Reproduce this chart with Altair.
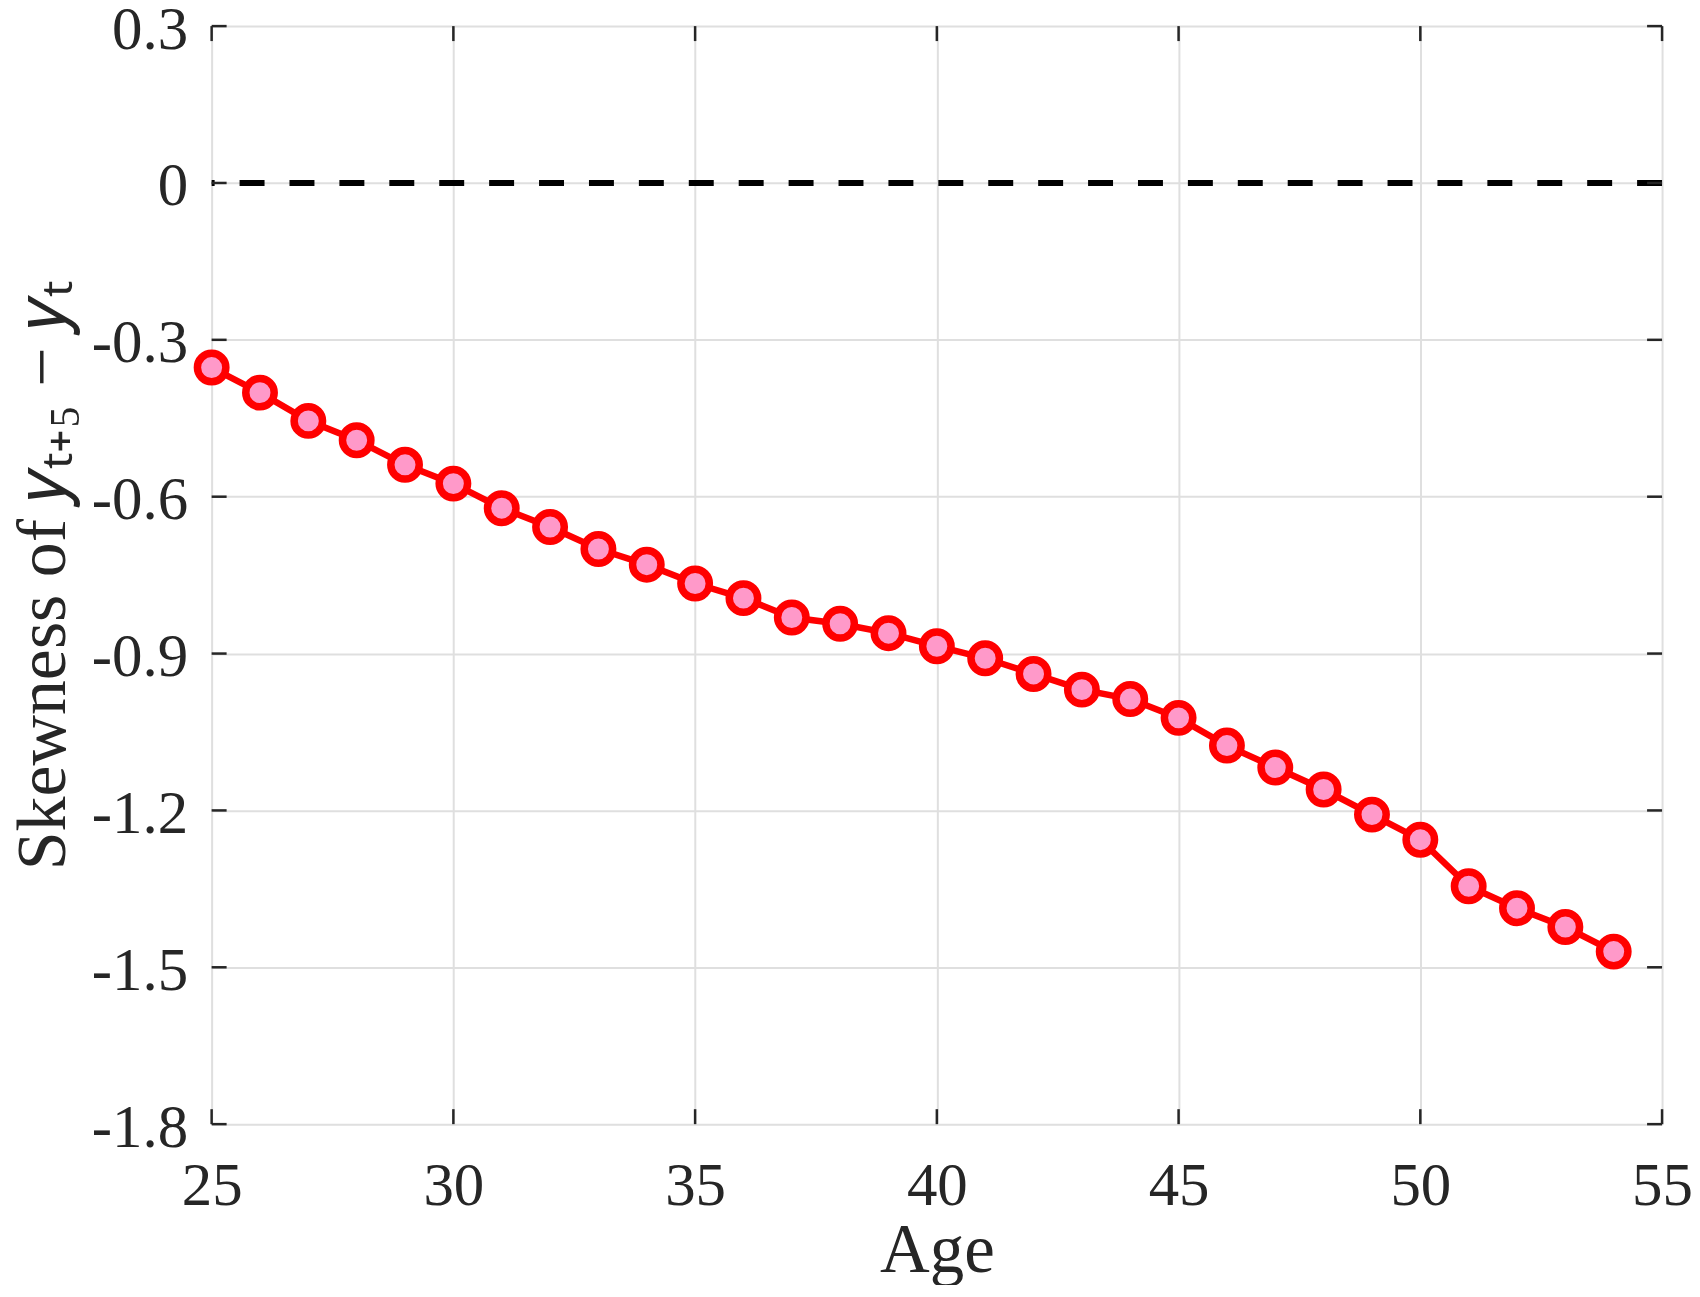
import altair as alt
import pandas as pd

# ---- data ----
ages = list(range(25, 55))
skewness = [-0.353, -0.401, -0.455, -0.492, -0.539, -0.575, -0.622, -0.658,
            -0.700, -0.730, -0.766, -0.794, -0.831, -0.843, -0.861, -0.886,
            -0.909, -0.939, -0.969, -0.987, -1.023, -1.076, -1.118, -1.160,
            -1.208, -1.256, -1.345, -1.387, -1.423, -1.470]
x_ticks = [25, 30, 35, 40, 45, 50, 55]
y_ticks = [-1.8, -1.5, -1.2, -0.9, -0.6, -0.3, 0, 0.3]
x_title = "Age"
y_title = "Skewness of 𝑦ₜ₊₅ − 𝑦ₜ"

W, H = 1453, 1100
FONT = "Liberation Serif"
INK = "#262626"
TICK_LEN = 15

df = pd.DataFrame({"age": ages, "skew": skewness})
xt = pd.DataFrame({"v": x_ticks})
yt = pd.DataFrame({"v": y_ticks})

xscale = alt.Scale(domain=[x_ticks[0], x_ticks[-1]], nice=False, zero=False)
yscale = alt.Scale(domain=[y_ticks[0], y_ticks[-1]], nice=False, zero=False)

x_axis = alt.Axis(values=x_ticks, grid=True, gridColor="#dfdfdf", gridWidth=2,
                  ticks=False, domain=False, labelFont=FONT, labelFontSize=61,
                  labelColor=INK, labelPadding=32, labelFlush=False,
                  title=x_title, titleFont=FONT, titleFontSize=69,
                  titleFontWeight="normal", titleColor=INK,
                  titleBaseline="alphabetic", titleAlign="center",
                  titleX=W / 2, titleY=148)
y_axis = alt.Axis(values=y_ticks, grid=True, gridColor="#dfdfdf", gridWidth=2,
                  ticks=False, domain=False, labelFont=FONT, labelFontSize=61,
                  labelColor=INK, labelPadding=24, labelFlush=False, labelOffset=4,
                  labelExpr="datum.value < -0.0001 ? '-' + format(-datum.value, '.1f') : (abs(datum.value) < 0.0001 ? '0' : format(datum.value, '.1f'))",
                  title=y_title, titleFont=FONT, titleFontSize=70,
                  titleFontWeight="normal", titleColor=INK,
                  titleAngle=270, titleAlign="center", titleBaseline="alphabetic",
                  titleX=-147, titleY=H / 2)

base = alt.Chart(df).encode(
    x=alt.X("age:Q", scale=xscale, axis=x_axis),
    y=alt.Y("skew:Q", scale=yscale, axis=y_axis),
)

zero_line = alt.Chart(pd.DataFrame({"z": [0]})).mark_rule(
    color="black", strokeWidth=6, strokeDash=[25, 25]
).encode(y=alt.Y("z:Q", scale=yscale))

line = base.mark_line(color="#ff0000", strokeWidth=6.5)
points = base.mark_point(shape="circle", filled=True, fill="#ff99c9",
                         stroke="#ff0000", strokeWidth=7.5, size=812, opacity=1)

# inward ticks on all four sides
tick_style = dict(color=INK, strokeWidth=2.5)
yl = alt.Chart(yt).mark_rule(**tick_style).encode(
    y=alt.Y("v:Q", scale=yscale), x=alt.value(0), x2=alt.value(TICK_LEN))
yr = alt.Chart(yt).mark_rule(**tick_style).encode(
    y=alt.Y("v:Q", scale=yscale), x=alt.value(W - TICK_LEN), x2=alt.value(W))
xb = alt.Chart(xt).mark_rule(**tick_style).encode(
    x=alt.X("v:Q", scale=xscale), y=alt.value(H - TICK_LEN), y2=alt.value(H))
xtp = alt.Chart(xt).mark_rule(**tick_style).encode(
    x=alt.X("v:Q", scale=xscale), y=alt.value(0), y2=alt.value(TICK_LEN))

chart = alt.layer(base.mark_line(opacity=0), zero_line, yl, yr, xb, xtp, line, points).properties(
    width=W, height=H,
    autosize=alt.AutoSizeParams(type="none"),
    padding={"left": 204, "top": 17, "right": 30, "bottom": 160},
).configure_view(stroke=INK, strokeWidth=2.5).configure(background="white")

chart.save("out.html", embed_options={"renderer": "svg", "actions": False})
